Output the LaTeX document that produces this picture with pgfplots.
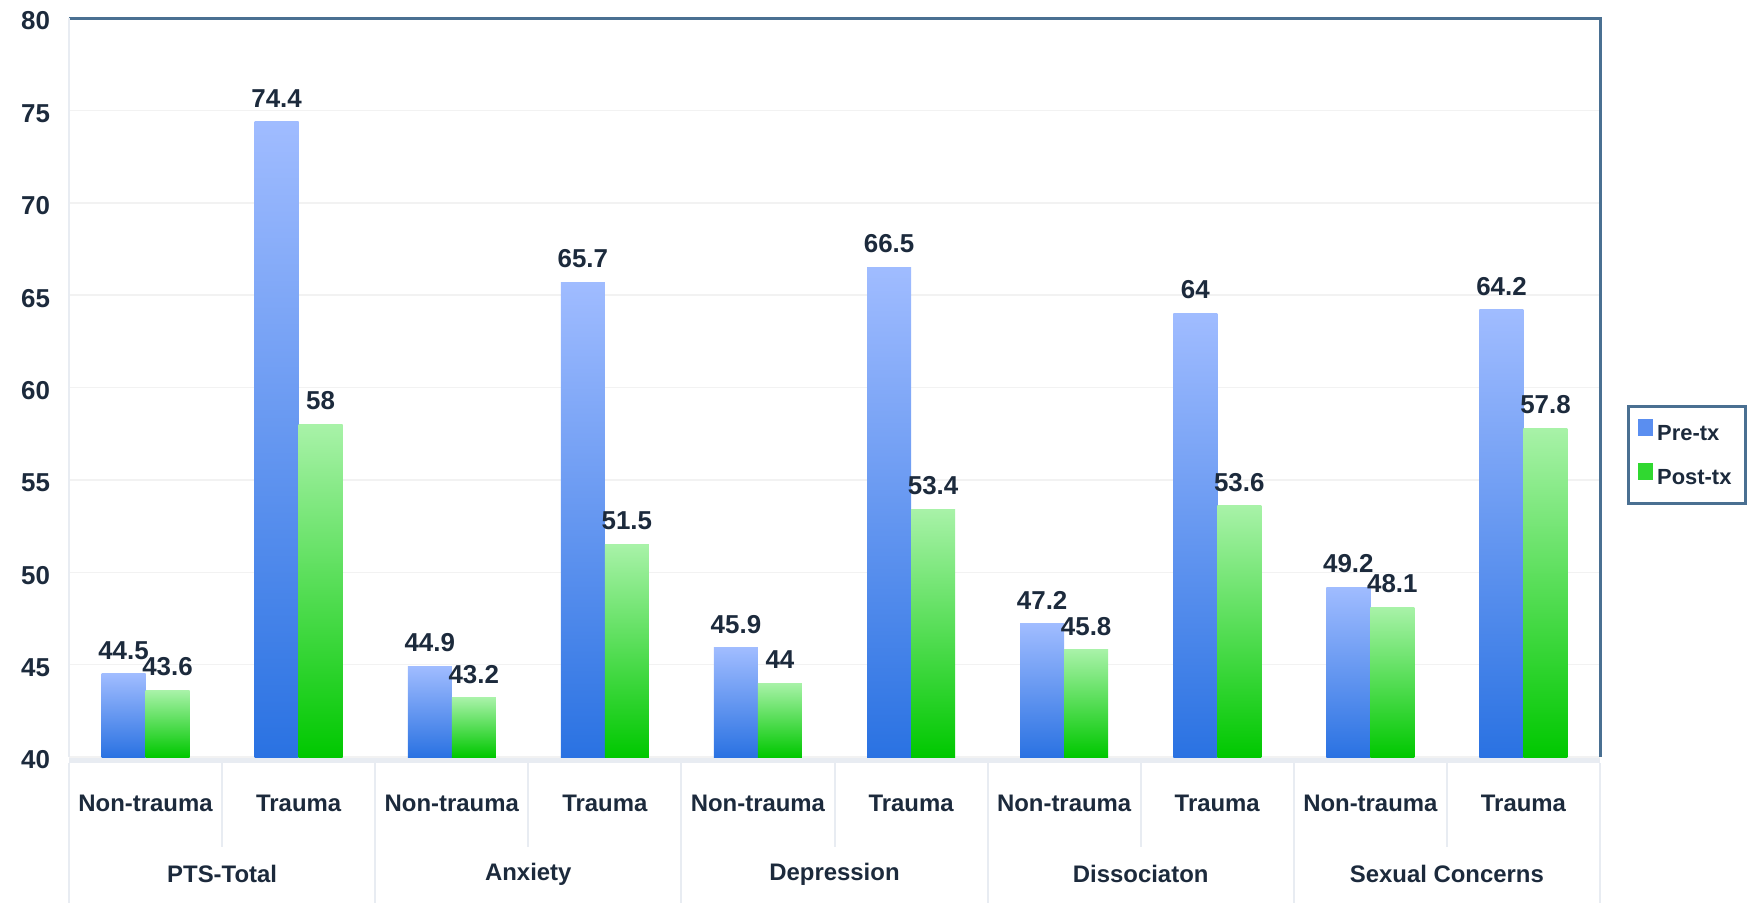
\documentclass[border=0pt]{standalone}
\usepackage{fontspec}
\setmainfont{Liberation Sans}
\usepackage{pgfplots}
\pgfplotsset{compat=1.18}
\definecolor{txt}{HTML}{1C2A3C}
\definecolor{frame}{HTML}{4A7092}
\definecolor{sepc}{HTML}{E8ECF2}
\definecolor{gridc}{HTML}{F2F2F2}
\definecolor{bluetop}{HTML}{A0BCFF}
\definecolor{bluebot}{HTML}{2A72E2}
\definecolor{bluemid}{HTML}{5A8EF0}
\definecolor{greentop}{HTML}{A8F2A8}
\definecolor{greenbot}{HTML}{00C800}
\definecolor{greenmid}{HTML}{30D830}
% one bar per plot so that each bar gets its own gradient
\newcommand{\prebar}[2]{\addplot[forget plot, draw=none, bar shift=-11bp, top color=bluetop, bottom color=bluebot] coordinates {(#1,#2)};}
\newcommand{\postbar}[2]{\addplot[forget plot, draw=none, bar shift=11bp, top color=greentop, bottom color=greenbot] coordinates {(#1,#2)};}
\begin{document}
\begin{tikzpicture}
\begin{axis}[
  at={(0,0)}, anchor=south west,
  width=765.5bp, height=369.5bp, scale only axis,
  xmin=-0.5, xmax=9.5, ymin=40, ymax=80,
  ytick={40,45,...,80},
  xtick={0,...,9},
  xticklabels={Non-trauma,Trauma,Non-trauma,Trauma,Non-trauma,Trauma,Non-trauma,Trauma,Non-trauma,Trauma},
  ybar=0pt, bar width=22bp,
  axis line style={draw=none},
  major tick length=0pt,
  ymajorgrids, grid style={draw=gridc, line width=0.75bp},
  /pgf/number format/assume math mode=true,
  tick label style={font=\fontsize{13}{15}\selectfont\bfseries, text=txt},
  yticklabel style={anchor=east, xshift=-6bp, yshift=-1.5bp},
  xticklabel style={anchor=center, yshift=-23bp, font=\fontsize{12}{14}\selectfont\bfseries},
  nodes near coords,
  nodes near coords style={font=\fontsize{13}{15}\selectfont\bfseries, text=txt, anchor=south, inner sep=0pt, yshift=7bp},
  clip=false,
  legend style={at={(1.096,0.4763)}, anchor=north east, draw=frame, line width=1.5bp,
    font=\fontsize{11}{13}\selectfont\bfseries, text=txt, inner xsep=5bp, inner ysep=6bp,
    row sep=8bp, cells={anchor=west}, nodes={inner sep=2bp}},
]
\addlegendimage{legend image code/.code={\fill[bluemid] (0bp,0bp) rectangle (6bp,7bp);}}
\addlegendentry{Pre-tx}
\addlegendimage{legend image code/.code={\fill[greenmid] (0bp,0bp) rectangle (6bp,7bp);}}
\addlegendentry{Post-tx}
% Pre-tx
\prebar{0}{44.5}\prebar{1}{74.4}\prebar{2}{44.9}\prebar{3}{65.7}\prebar{4}{45.9}
\prebar{5}{66.5}\prebar{6}{47.2}\prebar{7}{64}\prebar{8}{49.2}\prebar{9}{64.2}
% Post-tx
\postbar{0}{43.6}\postbar{1}{58}\postbar{2}{43.2}\postbar{3}{51.5}\postbar{4}{44}
\postbar{5}{53.4}\postbar{6}{45.8}\postbar{7}{53.6}\postbar{8}{48.1}\postbar{9}{57.8}
% frame
\draw[frame, line width=1.5bp] (rel axis cs:0,1) -- (rel axis cs:1,1) -- (rel axis cs:1,0);
\draw[sepc, line width=1bp] (rel axis cs:0,0) -- (rel axis cs:0,1);
\draw[sepc, line width=2.5bp] ([yshift=-1.5bp]rel axis cs:0,0) -- ([yshift=-1.5bp]rel axis cs:1,0);
% separators
\draw[sepc, line width=1bp] ([yshift=-3bp]axis cs:0.5,40) -- ([yshift=-45bp]axis cs:0.5,40);
\draw[sepc, line width=1bp] ([yshift=-3bp]axis cs:2.5,40) -- ([yshift=-45bp]axis cs:2.5,40);
\draw[sepc, line width=1bp] ([yshift=-3bp]axis cs:4.5,40) -- ([yshift=-45bp]axis cs:4.5,40);
\draw[sepc, line width=1bp] ([yshift=-3bp]axis cs:6.5,40) -- ([yshift=-45bp]axis cs:6.5,40);
\draw[sepc, line width=1bp] ([yshift=-3bp]axis cs:8.5,40) -- ([yshift=-45bp]axis cs:8.5,40);
\draw[sepc, line width=1bp] ([yshift=-3bp]axis cs:-0.5,40) -- ([yshift=-75bp]axis cs:-0.5,40);
\draw[sepc, line width=1bp] ([yshift=-3bp]axis cs:1.5,40) -- ([yshift=-75bp]axis cs:1.5,40);
\draw[sepc, line width=1bp] ([yshift=-3bp]axis cs:3.5,40) -- ([yshift=-75bp]axis cs:3.5,40);
\draw[sepc, line width=1bp] ([yshift=-3bp]axis cs:5.5,40) -- ([yshift=-75bp]axis cs:5.5,40);
\draw[sepc, line width=1bp] ([yshift=-3bp]axis cs:7.5,40) -- ([yshift=-75bp]axis cs:7.5,40);
\draw[sepc, line width=1bp] ([yshift=-3bp]axis cs:9.5,40) -- ([yshift=-75bp]axis cs:9.5,40);
% group labels
\begin{scope}[every node/.style={font=\fontsize{12}{14}\selectfont\bfseries, text=txt, anchor=center}]
\node at ([yshift=-58.5bp]axis cs:0.5,40) {PTS-Total};
\node at ([yshift=-58.5bp]axis cs:2.5,40) {Anxiety};
\node at ([yshift=-58.5bp]axis cs:4.5,40) {Depression};
\node at ([yshift=-58.5bp]axis cs:6.5,40) {Dissociaton};
\node at ([yshift=-58.5bp]axis cs:8.5,40) {Sexual Concerns};
\end{scope}
\end{axis}
\pgfresetboundingbox
\path[use as bounding box] (-34.5bp,-73bp) rectangle (839.5bp,378.5bp);
\end{tikzpicture}
\end{document}
